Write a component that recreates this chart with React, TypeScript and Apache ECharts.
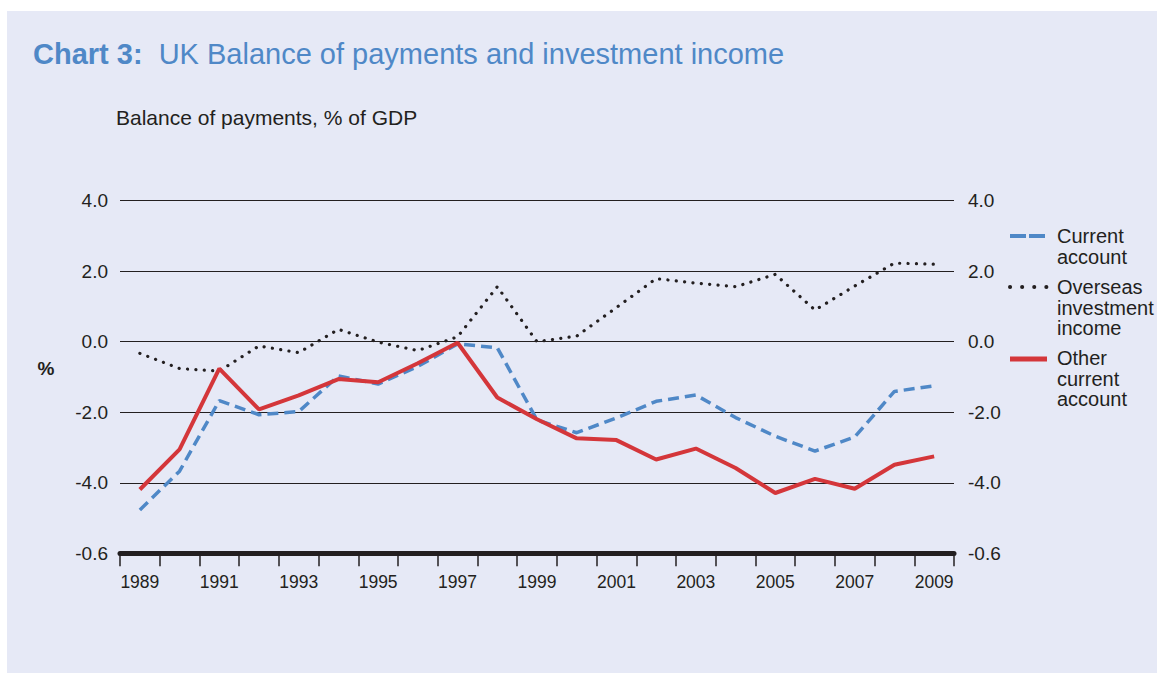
import React, { useEffect, useRef } from "react";
import * as echarts from "echarts";

const years = [
  "1989", "1990", "1991", "1992", "1993", "1994", "1995", "1996", "1997", "1998",
  "1999", "2000", "2001", "2002", "2003", "2004", "2005", "2006", "2007", "2008", "2009",
];

const currentAccount = [
  -4.77, -3.67, -1.67, -2.07, -1.98, -0.97, -1.2, -0.7, -0.06, -0.17,
  -2.22, -2.58, -2.16, -1.69, -1.51, -2.15, -2.68, -3.1, -2.7, -1.41, -1.25,
];

const overseasIncome = [
  -0.33, -0.76, -0.83, -0.12, -0.31, 0.35, -0.01, -0.25, 0.14, 1.56,
  0.0, 0.16, 0.97, 1.79, 1.66, 1.56, 1.91, 0.9, 1.58, 2.23, 2.2,
];

const otherCurrent = [
  -4.19, -3.05, -0.76, -1.92, -1.52, -1.06, -1.15, -0.61, -0.03, -1.58,
  -2.2, -2.74, -2.79, -3.34, -3.03, -3.58, -4.29, -3.89, -4.17, -3.49, -3.25,
];

const yTickValues = [-6, -4, -2, 0, 2, 4];
const yTickLabels = ["-0.6", "-4.0", "-2.0", "0.0", "2.0", "4.0"];

const seriesNames = ["Current account", "Overseas investment income", "Other current account"];
const legendLines = [
  ["Current", "account"],
  ["Overseas", "investment", "income"],
  ["Other", "current", "account"],
];

const FONT = "'Liberation Sans', Arial, Helvetica, sans-serif";
const INK = "#231F20";
const BLUE = "#4F88C7";
const RED = "#D4363A";

export default function App() {
  const ref = useRef<HTMLDivElement>(null);

  useEffect(() => {
    if (!ref.current) return;
    const chart = echarts.init(ref.current, null, { renderer: "svg" });

    const yFmt = (v: number) => {
      const i = yTickValues.indexOf(v);
      return i >= 0 ? yTickLabels[i] : "";
    };

    const legendGraphics: any[] = [];
    legendGraphics.push({
      type: "line",
      shape: { x1: 1010, y1: 236, x2: 1047, y2: 236 },
      style: { stroke: BLUE, lineWidth: 4, lineDash: [16, 3] },
    });
    legendGraphics.push({
      type: "line",
      shape: { x1: 1010, y1: 287, x2: 1048, y2: 287 },
      style: { stroke: INK, lineWidth: 4, lineDash: [0.1, 12], lineCap: "round" },
    });
    legendGraphics.push({
      type: "line",
      shape: { x1: 1010, y1: 359, x2: 1047, y2: 359 },
      style: { stroke: RED, lineWidth: 5 },
    });
    const legendStarts = [236, 287, 358];
    legendLines.forEach((lines, k) => {
      lines.forEach((t, j) => {
        legendGraphics.push({
          type: "text",
          x: 1057,
          y: legendStarts[k] + j * 20.5,
          style: {
            text: t,
            fontSize: 20,
            fontFamily: FONT,
            fill: INK,
            verticalAlign: "middle",
            align: "left",
          },
        });
      });
    });

    chart.setOption({
      animation: false,
      textStyle: { fontFamily: FONT },
      title: [
        {
          text: "{b|Chart 3:}  {n|UK Balance of payments and investment income}",
          left: 33,
          top: 39.5,
          padding: 0,
          textStyle: {
            fontSize: 29,
            fontFamily: FONT,
            color: BLUE,
            rich: {
              b: { fontSize: 29, fontWeight: "bold", color: BLUE, fontFamily: FONT },
              n: { fontSize: 29, fontWeight: "normal", color: BLUE, fontFamily: FONT },
            },
          },
        },
        {
          text: "Balance of payments, % of GDP",
          left: 116,
          top: 106.5,
          padding: 0,
          textStyle: { fontSize: 21, fontWeight: "normal", color: INK, fontFamily: FONT },
        },
      ],
      grid: {
        left: 120,
        right: 203,
        top: 200.7,
        bottom: 119.7,
        containLabel: false,
        outerBoundsMode: "none",
      },
      xAxis: {
        type: "category",
        data: years,
        boundaryGap: true,
        axisLine: { show: true, onZero: false, lineStyle: { color: INK, width: 5 } },
        axisTick: { show: true, interval: 0, length: 13, lineStyle: { color: INK, width: 1.5 } },
        axisLabel: { interval: 1, fontSize: 17.5, color: INK, margin: 20, fontFamily: FONT },
        splitLine: { show: false },
      },
      yAxis: [
        {
          type: "value",
          min: -6,
          max: 4,
          interval: 2,
          position: "left",
          axisLine: { show: false },
          axisTick: { show: false },
          axisLabel: { formatter: yFmt, fontSize: 19, color: INK, margin: 12, fontFamily: FONT },
          splitLine: { show: true, lineStyle: { color: INK, width: 1.2 } },
        },
        {
          type: "value",
          min: -6,
          max: 4,
          interval: 2,
          position: "right",
          axisLine: { show: false },
          axisTick: { show: false },
          axisLabel: { formatter: yFmt, fontSize: 19, color: INK, margin: 14, fontFamily: FONT },
          splitLine: { show: false },
        },
      ],
      series: [
        {
          name: seriesNames[0],
          type: "line",
          data: currentAccount,
          symbol: "none",
          yAxisIndex: 0,
          z: 3,
          lineStyle: { color: BLUE, width: 3.5, type: [11, 6] },
        },
        {
          name: seriesNames[1],
          type: "line",
          data: overseasIncome,
          symbol: "none",
          yAxisIndex: 0,
          z: 4,
          lineStyle: { color: INK, width: 3.2, type: [0.1, 8.3], cap: "round" },
        },
        {
          name: seriesNames[2],
          type: "line",
          data: otherCurrent,
          symbol: "none",
          yAxisIndex: 0,
          z: 5,
          lineStyle: { color: RED, width: 4 },
        },
      ],
      graphic: [
        {
          type: "text",
          x: 46,
          y: 368,
          style: {
            text: "%",
            fontSize: 19,
            fontWeight: "bold",
            fontFamily: FONT,
            fill: INK,
            align: "center",
            verticalAlign: "middle",
          },
        },
        ...legendGraphics,
      ],
    });

    return () => chart.dispose();
  }, []);

  return (
    <div style={{ position: "fixed", left: 0, top: 0, width: 1157, height: 673, background: "#ffffff" }}>
      <div
        style={{ position: "absolute", left: 7, top: 11, width: 1150, height: 662, background: "#E6E9F6" }}
      />
      <div ref={ref} style={{ position: "absolute", left: 0, top: 0, width: 1157, height: 673 }} />
    </div>
  );
}
